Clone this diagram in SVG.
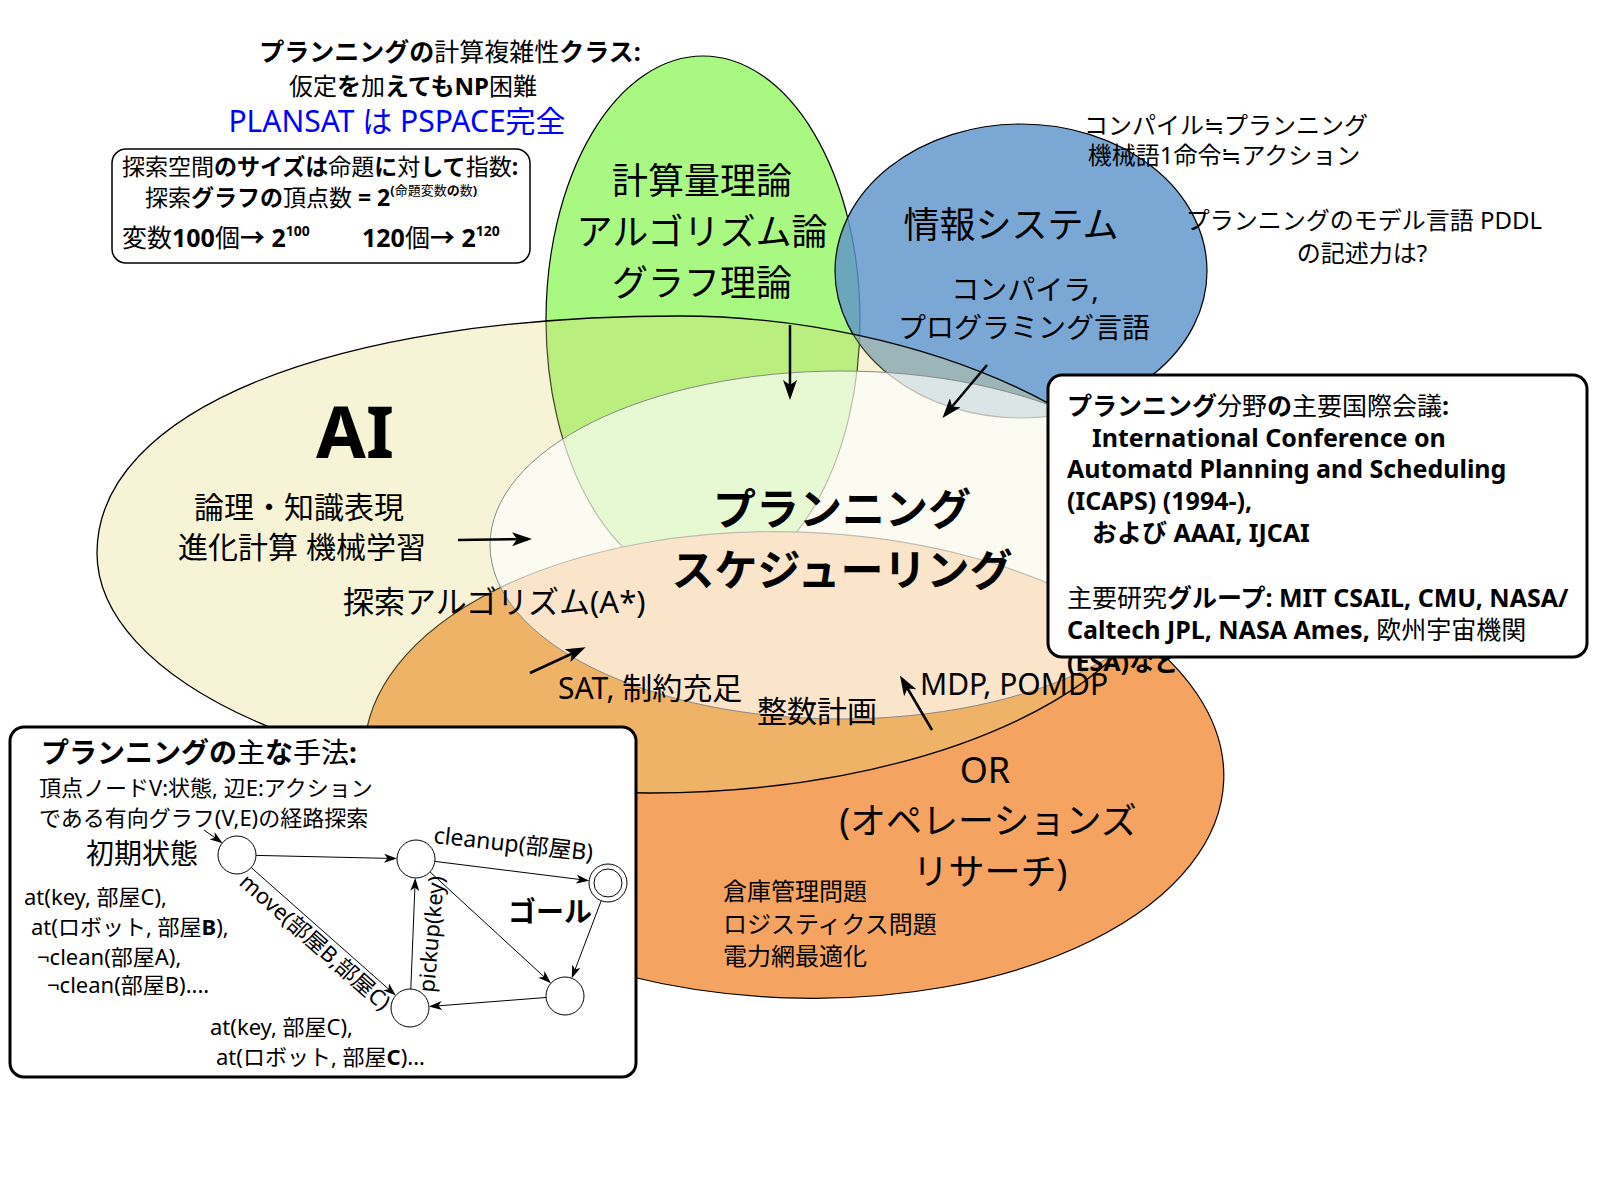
<svg xmlns="http://www.w3.org/2000/svg" width="1600" height="1200" viewBox="0 0 1600 1200">
<defs>
<style>
text{font-family:"Noto Sans","Noto Sans CJK JP",sans-serif;fill:#000}
.b{font-weight:bold}
.n{font-weight:normal}
.c{text-anchor:middle}
.arr{stroke:#000;stroke-width:2.5;fill:none;marker-end:url(#big)}
.edge{stroke:#000;stroke-width:1;fill:none;marker-end:url(#sm)}
.node{fill:#fff;stroke:#000;stroke-width:1}
.box{fill:#fff;stroke:#000;stroke-width:3}
</style>
<marker id="big" viewBox="0 0 20 14" refX="16" refY="7" markerWidth="20" markerHeight="14" orient="auto" markerUnits="userSpaceOnUse"><path d="M0,0 L20,7 L0,14 L5,7 Z" fill="#000"/></marker>
<marker id="sm" viewBox="0 0 13 9" refX="11" refY="4.5" markerWidth="13" markerHeight="9" orient="auto" markerUnits="userSpaceOnUse"><path d="M0,0 L13,4.5 L0,9 L3.5,4.5 Z" fill="#000"/></marker>
</defs>
<rect width="1600" height="1200" fill="#fff"/>

<g id="complexity">
<text class="c b" x="450" y="61" font-size="25">プランニングの<tspan class="n">計算複雑性</tspan>クラス:</text>
<text class="c b" x="413" y="95" font-size="24"><tspan class="n">仮定</tspan>を<tspan class="n">加</tspan>えてもNP<tspan class="n">困難</tspan></text>
<text class="c" x="397" y="132" font-size="30" style="fill:#0000ff">PLANSAT は PSPACE完全</text>
</g>

<g id="search-space">
<rect x="112" y="149" width="418" height="114" rx="14" fill="#fff" stroke="#000" stroke-width="1.5"/>
<text class="b" x="122" y="175" font-size="23"><tspan class="n">探索空間</tspan>のサイズは<tspan class="n">命題</tspan>に<tspan class="n">対</tspan>して<tspan class="n">指数</tspan>:</text>
<text class="b" x="145" y="206" font-size="23"><tspan class="n">探索</tspan>グラフの<tspan class="n">頂点数</tspan> = 2<tspan font-size="13" dy="-11">(<tspan class="n">命題変数</tspan>の<tspan class="n">数</tspan>)</tspan></text>
<text class="b" x="122" y="247" font-size="25"><tspan class="n">変数</tspan>100<tspan class="n">個</tspan>→ 2<tspan font-size="14" dy="-11">100</tspan></text>
<text class="b" x="362" y="247" font-size="25">120<tspan class="n">個</tspan>→ 2<tspan font-size="14" dy="-11">120</tspan></text>
</g>

<g id="theory">
<ellipse cx="703" cy="320" rx="157" ry="264" fill="#a8f882" stroke="#000" stroke-width="1.2"/>
<text class="c" x="702" y="194" font-size="36">計算量理論</text>
<text class="c" x="702" y="245" font-size="36">アルゴリズム論</text>
<text class="c" x="702" y="296" font-size="36">グラフ理論</text>
</g>

<g id="infosys">
<ellipse cx="1021" cy="271" rx="186" ry="147" fill="#5e94cb" fill-opacity="0.82" stroke="#000" stroke-width="1.2"/>
<text class="c" x="1011" y="238" font-size="36">情報システム</text>
<text class="c" x="1025" y="300" font-size="28">コンパイラ,</text>
<text class="c" x="1024" y="338" font-size="28">プログラミング言語</text>
</g>

<g id="notes">
<text class="c" x="1226" y="134" font-size="24">コンパイル≒プランニング</text>
<text class="c" x="1224" y="164" font-size="24">機械語1命令≒アクション</text>
<text class="c" x="1364" y="229" font-size="24">プランニングのモデル言語 PDDL</text>
<text class="c" x="1362" y="262" font-size="24">の記述力は?</text>
</g>

<g id="or">
<ellipse cx="794" cy="765" rx="430" ry="233" transform="rotate(2 794 765)" fill="#f4a460" stroke="#000" stroke-width="1.2"/>
<text class="c" x="985" y="783" font-size="36">OR</text>
<text class="c" x="988" y="834" font-size="36">(オペレーションズ</text>
<text class="c" x="990" y="885" font-size="36">リサーチ)</text>
<text x="723" y="900" font-size="24">倉庫管理問題</text>
<text x="723" y="933" font-size="24">ロジスティクス問題</text>
<text x="723" y="965" font-size="24">電力網最適化</text>
</g>

<g id="ai">
<path d="M97,553 C97,411 330,316 680,316 C925,316 1170,430 1170,545 A520,248 0 0 1 650,793 A553,240 0 0 1 97,553 Z" fill="#e6d878" fill-opacity="0.3" stroke="#000" stroke-width="1.3"/>
<text class="c b" x="355" y="458" font-size="72">AI</text>
<text class="c" x="299" y="518" font-size="30">論理・知識表現</text>
<text class="c" x="302" y="558" font-size="30">進化計算 機械学習</text>
</g>

<g id="planning">
<ellipse cx="841" cy="545" rx="351" ry="174" fill="#fff" fill-opacity="0.65" stroke="#888" stroke-width="1"/>
<text class="c b" x="842" y="525" font-size="43">プランニング</text>
<text class="c b" x="842" y="586" font-size="43">スケジューリング</text>
</g>

<g id="methods">
<text x="343" y="613" font-size="31">探索アルゴリズム(A*)</text>
<text x="558" y="699" font-size="30">SAT, 制約充足</text>
<text x="757" y="722" font-size="30">整数計画</text>
<text x="920" y="695" font-size="30">MDP, POMDP</text>
</g>

<g id="connectors">
<line class="arr" x1="458" y1="540" x2="528" y2="539"/>
<line class="arr" x1="790" y1="325" x2="790" y2="396"/>
<line class="arr" x1="987" y1="365" x2="945" y2="415"/>
<line class="arr" x1="530" y1="673" x2="582" y2="649"/>
<line class="arr" x1="932" y1="730" x2="902" y2="679"/>
</g>

<g id="conferences">
<text class="b" x="1067" y="671" font-size="25">(ESA)など</text>
<rect class="box" x="1048" y="375" width="539" height="282" rx="14"/>
<text class="b" x="1067" y="415" font-size="25">プランニング<tspan class="n">分野</tspan>の<tspan class="n">主要国際会議</tspan>:</text>
<text class="b" x="1092" y="447" font-size="25">International Conference on</text>
<text class="b" x="1067" y="478" font-size="25">Automatd Planning and Scheduling</text>
<text class="b" x="1067" y="510" font-size="25">(ICAPS) (1994-),</text>
<text class="b" x="1092" y="542" font-size="25">および AAAI, IJCAI</text>
<text class="b" x="1067" y="607" font-size="25"><tspan class="n">主要研究</tspan>グループ: MIT CSAIL, CMU, NASA/</text>
<text class="b" x="1067" y="639" font-size="25">Caltech JPL, NASA Ames, <tspan class="n">欧州宇宙機関</tspan></text>
</g>

<g id="methods-box">
<rect class="box" x="10" y="727" width="626" height="350" rx="14"/>
<text class="b" x="41" y="763" font-size="28">プランニングの<tspan class="n">主</tspan>な<tspan class="n">手法</tspan>:</text>
<text x="39" y="796" font-size="22">頂点ノードV:状態, 辺E:アクション</text>
<text x="39" y="826" font-size="22">である有向グラフ(V,E)の経路探索</text>
<text x="86" y="864" font-size="28">初期状態</text>
<text x="24" y="905" font-size="22">at(key, 部屋C),</text>
<text x="31" y="935" font-size="22">at(ロボット, 部屋<tspan class="b">B</tspan>),</text>
<text x="37" y="965" font-size="22">¬clean(部屋A),</text>
<text x="47" y="993" font-size="22">¬clean(部屋B)....</text>
<text x="210" y="1035" font-size="22">at(key, 部屋C),</text>
<text x="216" y="1065" font-size="22">at(ロボット, 部屋<tspan class="b">C</tspan>)...</text>
<text class="b" x="508" y="922" font-size="28">ゴール</text>
</g>

<g id="graph-edges">
<line class="edge" x1="256" y1="855.4" x2="395" y2="858.5"/>
<line class="edge" x1="434.9" y1="861.4" x2="587.2" y2="880.4"/>
<line class="edge" x1="251.2" y1="867.6" x2="394.3" y2="994.1"/>
<line class="edge" x1="410.8" y1="989" x2="415.2" y2="880"/>
<line class="edge" x1="430" y1="871.9" x2="549.5" y2="981.8"/>
<line class="edge" x1="601.2" y1="900.8" x2="572.5" y2="976.4"/>
<line class="edge" x1="546.1" y1="997.5" x2="430.9" y2="1006.4"/>
<line class="edge" x1="204" y1="830" x2="221" y2="842"/>
<text x="433" y="843" font-size="23" transform="rotate(6.3 433 843)">cleanup(部屋B)</text>
<text x="238" y="884" font-size="22" transform="rotate(41.5 238 884)">move(部屋B,部屋C)</text>
<text x="434" y="993" font-size="22" transform="rotate(-85 434 993)">pickup(key)</text>
</g>

<g id="n1"><circle class="node" cx="237" cy="855" r="19"/></g>
<g id="n2"><circle class="node" cx="416" cy="859" r="19"/></g>
<g id="n3"><circle class="node" cx="608" cy="883" r="19"/><circle class="node" cx="608" cy="883" r="14"/></g>
<g id="n4"><circle class="node" cx="410" cy="1008" r="19"/></g>
<g id="n5"><circle class="node" cx="565" cy="996" r="19"/></g>
</svg>
